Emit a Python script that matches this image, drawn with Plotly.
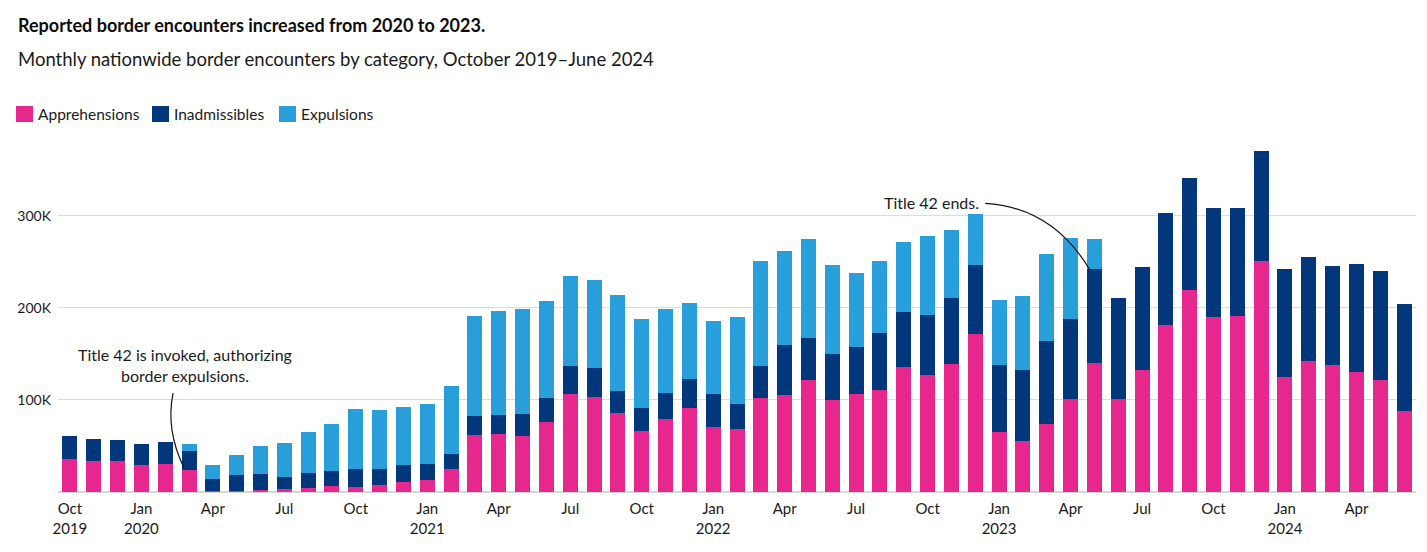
import plotly.graph_objects as go

months = [
    "Oct 2019", "Nov 2019", "Dec 2019",
    "Jan 2020", "Feb 2020", "Mar 2020", "Apr 2020", "May 2020", "Jun 2020",
    "Jul 2020", "Aug 2020", "Sep 2020", "Oct 2020", "Nov 2020", "Dec 2020",
    "Jan 2021", "Feb 2021", "Mar 2021", "Apr 2021", "May 2021", "Jun 2021",
    "Jul 2021", "Aug 2021", "Sep 2021", "Oct 2021", "Nov 2021", "Dec 2021",
    "Jan 2022", "Feb 2022", "Mar 2022", "Apr 2022", "May 2022", "Jun 2022",
    "Jul 2022", "Aug 2022", "Sep 2022", "Oct 2022", "Nov 2022", "Dec 2022",
    "Jan 2023", "Feb 2023", "Mar 2023", "Apr 2023", "May 2023", "Jun 2023",
    "Jul 2023", "Aug 2023", "Sep 2023", "Oct 2023", "Nov 2023", "Dec 2023",
    "Jan 2024", "Feb 2024", "Mar 2024", "Apr 2024", "May 2024", "Jun 2024",
]

# values in thousands
apprehensions = [
    35.5, 33.3, 33.3,
    29.0, 30.0, 23.5, 1.5, 1.5, 2.2,
    3.0, 4.0, 6.0, 5.0, 7.2, 10.5,
    12.7, 24.6, 61.5, 62.6, 60.4, 75.6,
    106.0, 102.7, 85.4, 65.8, 78.9, 90.8,
    70.2, 68.0, 101.6, 104.9, 121.1, 99.5,
    106.0, 110.3, 135.3, 126.5, 139.5, 172.0,
    64.7, 54.9, 73.4, 100.5, 140.6, 100.5,
    133.0, 181.8, 219.7, 190.5, 191.5, 251.2,
    125.4, 141.7, 138.4, 130.8, 121.1, 87.5,
]
inadmissibles = [
    24.9, 23.8, 22.7,
    22.7, 23.9, 20.6, 12.3, 16.6, 17.0,
    12.9, 16.3, 16.5, 19.6, 17.4, 18.5,
    17.3, 16.3, 20.6, 20.6, 23.9, 26.0,
    30.3, 31.5, 23.8, 25.0, 28.1, 31.4,
    35.8, 27.1, 34.7, 54.2, 45.6, 49.8,
    50.9, 61.8, 59.6, 66.1, 71.6, 74.8,
    73.7, 78.1, 91.0, 87.8, 101.9, 110.6,
    111.7, 121.4, 121.5, 118.1, 117.1, 119.2,
    117.1, 113.8, 107.4, 117.1, 119.2, 117.1,
]
expulsions = [
    0, 0, 0,
    0, 0, 7.6, 15.2, 21.7, 30.3,
    36.9, 44.4, 50.9, 65.1, 64.0, 62.9,
    65.1, 73.7, 109.5, 112.8, 113.9, 106.3,
    97.7, 96.5, 104.2, 96.5, 91.2, 83.5,
    80.2, 95.4, 114.0, 103.1, 108.5, 97.7,
    81.4, 79.2, 77.0, 85.7, 73.7, 55.3,
    70.5, 80.2, 94.4, 87.8, 32.5, 0,
    0, 0, 0, 0, 0, 0,
    0, 0, 0, 0, 0, 0,
]
series_names = ["Apprehensions", "Inadmissibles", "Expulsions"]

y_tick_values = [100, 200, 300]
y_tick_labels = ["100K", "200K", "300K"]

PINK = "#e6288e"
NAVY = "#02387b"
LIGHT = "#289fda"
colors = [PINK, NAVY, LIGHT]
FONT = "Lato"
TXT = "#1a1a1a"

# figure geometry (pixels inside the figure)
W, H = 1411, 536
ML, MR, MT, MB = 50, 3, 134, 52
PW, PH = W - ML - MR, H - MT - MB


def px(xp):
    # page x pixel -> paper x (page has 8px body margin)
    return (xp - 8 - ML) / PW


def py(yp):
    return (H - MB - (yp - 8)) / PH


x = list(range(len(months)))

tick_idx = list(range(0, len(months), 3))
tick_txt = []
for i in tick_idx:
    m, yr = months[i].split()
    if m == "Jan" or i == 0:
        tick_txt.append(f"{m}<br>{yr}")
    else:
        tick_txt.append(m)

fig = go.Figure()
for name, vals, col in zip(series_names, [apprehensions, inadmissibles, expulsions], colors):
    fig.add_bar(x=x, y=vals, name=name, marker_color=col, marker_line_width=0,
                showlegend=False)

fig.update_layout(
    width=W, height=H,
    barmode="stack", bargap=0.37,
    plot_bgcolor="white", paper_bgcolor="white",
    margin=dict(l=ML, r=MR, t=MT, b=MB),
    font=dict(family=FONT, size=14, color=TXT),
    xaxis=dict(range=[-0.5, len(months) - 0.5], tickvals=tick_idx,
               ticktext=tick_txt, showgrid=False, zeroline=False,
               showline=False, ticks="", ticklabelstandoff=6,
               tickfont=dict(size=15, color=TXT)),
    yaxis=dict(range=[0, 380], tickvals=y_tick_values, ticktext=y_tick_labels,
               showgrid=True, gridcolor="#dcdcdc", gridwidth=1,
               zeroline=True, zerolinecolor="#d6d6d6", zerolinewidth=2,
               showline=False, ticks="", ticklabelstandoff=6,
               tickfont=dict(size=14, color=TXT)),
    showlegend=False,
)

# title and subtitle
fig.add_annotation(xref="paper", yref="paper", x=px(16), y=py(25),
                   xanchor="left", yanchor="middle", showarrow=False,
                   text="<b>Reported border encounters increased from 2020 to 2023.</b>",
                   font=dict(size=18, color="#0d0d0d", family=FONT))
fig.add_annotation(xref="paper", yref="paper", x=px(16), y=py(59),
                   xanchor="left", yanchor="middle", showarrow=False,
                   text="Monthly nationwide border encounters by category, October 2019–June 2024",
                   font=dict(size=18.5, color=TXT, family=FONT))

# legend (swatches + labels)
legend_swatch_x = [16, 152, 279]
for name, col, sx in zip(series_names, colors, legend_swatch_x):
    fig.add_shape(type="rect", xref="paper", yref="paper",
                  x0=px(sx), x1=px(sx + 17), y0=py(122), y1=py(106),
                  fillcolor=col, line_width=0)
    fig.add_annotation(xref="paper", yref="paper", x=px(sx + 20), y=py(114),
                       xanchor="left", yanchor="middle", showarrow=False,
                       text=name, font=dict(size=15.5, color=TXT))

# event annotations
fig.add_annotation(xref="x", yref="y", x=4.83, y=114, xanchor="center",
                   yanchor="bottom", showarrow=False, align="center",
                   text="Title 42 is invoked, authorizing<br>border expulsions.",
                   font=dict(size=16, color=TXT))
fig.add_annotation(xref="x", yref="y", x=38.25, y=314.5, xanchor="right",
                   yanchor="middle", showarrow=False,
                   text="Title 42 ends.", font=dict(size=16, color=TXT))

fig.add_shape(type="path", xref="x", yref="y",
              path="M 4.33,107.4 Q 4.01,67.8 4.79,26",
              line=dict(color="#111", width=1.2))
fig.add_shape(type="path", xref="x", yref="y",
              path="M 38.42,313.4 Q 41.25,309.1 42.82,240.8",
              line=dict(color="#111", width=1.2))

fig.write_html("out.html")
